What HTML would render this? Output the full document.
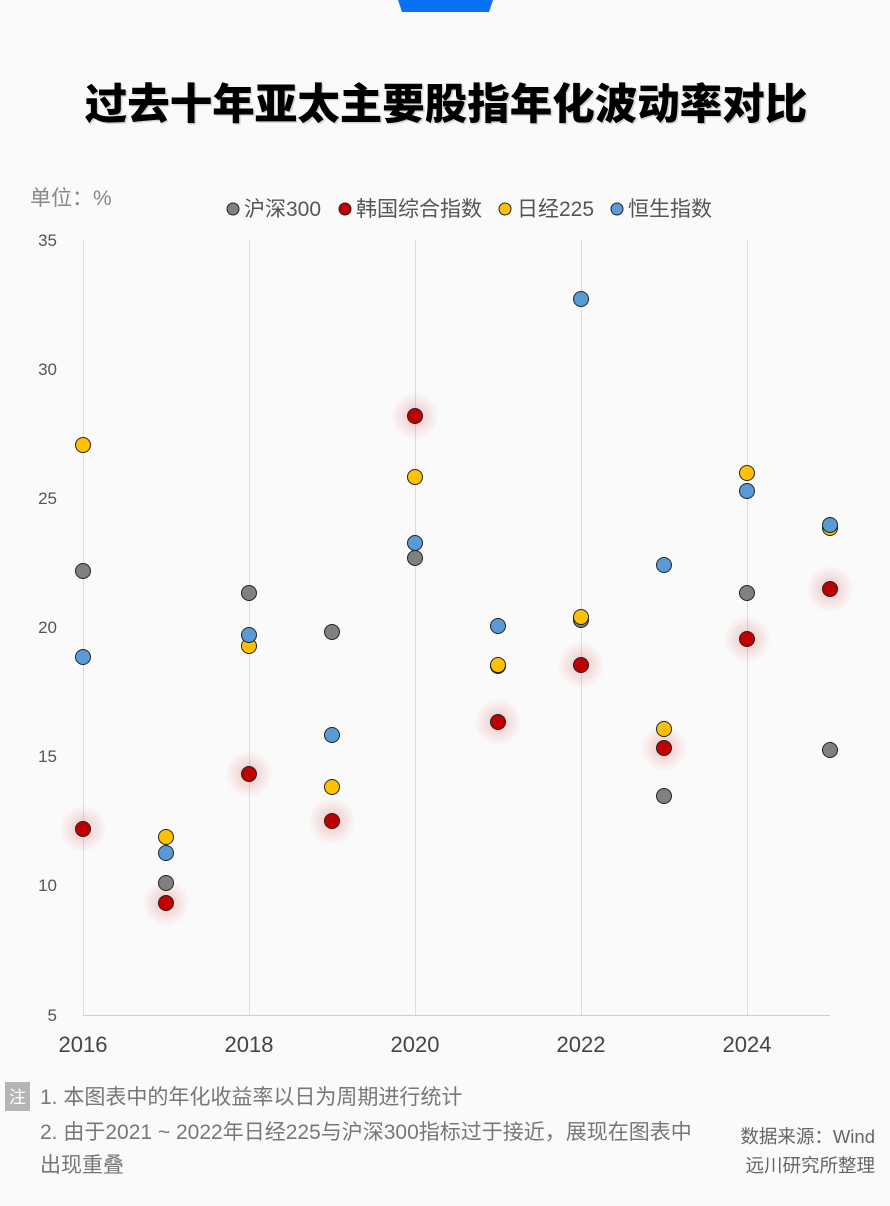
<!DOCTYPE html>
<html><head><meta charset="utf-8"><style>
html,body{margin:0;padding:0;background:#fafafa;}
svg{display:block;}
text{font-family:"Liberation Sans","Noto Sans CJK SC",sans-serif;}
</style></head><body>
<svg width="890" height="1206" viewBox="0 0 890 1206" xmlns="http://www.w3.org/2000/svg">
<defs>
<radialGradient id="glow">
<stop offset="0" stop-color="#d04040" stop-opacity="0.35"/>
<stop offset="0.45" stop-color="#d85050" stop-opacity="0.18"/>
<stop offset="1" stop-color="#e06060" stop-opacity="0"/>
</radialGradient>
</defs>
<rect width="890" height="1206" fill="#fafafa"/>
<polygon points="398,0 493,0 489,12 402,12" fill="#0a72f2"/>
<text x="447.5" y="120.5" text-anchor="middle" font-size="42.5" font-weight="900" fill="#d4d4d4" style="font-family:'Noto Sans CJK SC',sans-serif">过去十年亚太主要股指年化波动率对比</text>
<text x="446" y="119" text-anchor="middle" font-size="42.5" font-weight="900" fill="#000" style="font-family:'Noto Sans CJK SC',sans-serif">过去十年亚太主要股指年化波动率对比</text>

<text x="30" y="205" font-size="21" fill="#888">单位：%</text>

<g font-size="21" fill="#555">
<circle cx="233" cy="209" r="6" fill="#808080" stroke="#222" stroke-width="1"/>
<text x="244" y="216">沪深300</text>
<circle cx="345" cy="209" r="6" fill="#c00000" stroke="#222" stroke-width="1"/>
<text x="356" y="216">韩国综合指数</text>
<circle cx="505" cy="209" r="6" fill="#ffc000" stroke="#222" stroke-width="1"/>
<text x="517" y="216">日经225</text>
<circle cx="617" cy="209" r="6" fill="#5b9bd5" stroke="#222" stroke-width="1"/>
<text x="628" y="216">恒生指数</text>
</g>

<g stroke="#dcdcdc" stroke-width="1">
<line x1="83.5" y1="240" x2="83.5" y2="1015"/>
<line x1="249.5" y1="240" x2="249.5" y2="1015"/>
<line x1="415.5" y1="240" x2="415.5" y2="1015"/>
<line x1="581.5" y1="240" x2="581.5" y2="1015"/>
<line x1="747.5" y1="240" x2="747.5" y2="1015"/>
</g>
<line x1="83" y1="1015.5" x2="830" y2="1015.5" stroke="#cfcfcf" stroke-width="1"/>

<g font-size="17" fill="#555" text-anchor="end">
<text x="57" y="246">35</text>
<text x="57" y="375">30</text>
<text x="57" y="504">25</text>
<text x="57" y="633">20</text>
<text x="57" y="762">15</text>
<text x="57" y="891">10</text>
<text x="57" y="1021">5</text>
</g>
<g font-size="22" fill="#444" text-anchor="middle">
<text x="83" y="1052">2016</text>
<text x="249" y="1052">2018</text>
<text x="415" y="1052">2020</text>
<text x="581" y="1052">2022</text>
<text x="747" y="1052">2024</text>
</g>

<g fill="url(#glow)">
<circle cx="83" cy="829" r="24"/>
<circle cx="166" cy="903" r="24"/>
<circle cx="249" cy="774" r="24"/>
<circle cx="332" cy="821" r="24"/>
<circle cx="415" cy="416" r="24"/>
<circle cx="498" cy="722" r="24"/>
<circle cx="581" cy="665" r="24"/>
<circle cx="664" cy="748" r="24"/>
<circle cx="747" cy="639" r="24"/>
<circle cx="830" cy="589" r="24"/>
</g>

<g stroke="#222" stroke-width="1">
<g fill="#5b9bd5">
<circle cx="415" cy="543" r="7.5"/>
</g>
<g fill="#808080">
<circle cx="83" cy="571" r="7.5"/>
<circle cx="166" cy="883" r="7.5"/>
<circle cx="249" cy="593" r="7.5"/>
<circle cx="332" cy="632" r="7.5"/>
<circle cx="415" cy="558" r="7.5"/>
<circle cx="498" cy="666" r="7.5"/>
<circle cx="581" cy="620" r="7.5"/>
<circle cx="664" cy="796" r="7.5"/>
<circle cx="747" cy="593" r="7.5"/>
<circle cx="830" cy="750" r="7.5"/>
</g>
<g fill="#c00000">
<circle cx="83" cy="829" r="7.5"/>
<circle cx="166" cy="903" r="7.5"/>
<circle cx="249" cy="774" r="7.5"/>
<circle cx="332" cy="821" r="7.5"/>
<circle cx="415" cy="416" r="7.5"/>
<circle cx="498" cy="722" r="7.5"/>
<circle cx="581" cy="665" r="7.5"/>
<circle cx="664" cy="748" r="7.5"/>
<circle cx="747" cy="639" r="7.5"/>
<circle cx="830" cy="589" r="7.5"/>
</g>
<g fill="#ffc000">
<circle cx="83" cy="445" r="7.5"/>
<circle cx="166" cy="837" r="7.5"/>
<circle cx="249" cy="646" r="7.5"/>
<circle cx="332" cy="787" r="7.5"/>
<circle cx="415" cy="477" r="7.5"/>
<circle cx="498" cy="665" r="7.5"/>
<circle cx="581" cy="617" r="7.5"/>
<circle cx="664" cy="729" r="7.5"/>
<circle cx="747" cy="473" r="7.5"/>
<circle cx="830" cy="528" r="7.5"/>
</g>
<g fill="#5b9bd5">
<circle cx="83" cy="657" r="7.5"/>
<circle cx="166" cy="853" r="7.5"/>
<circle cx="249" cy="635" r="7.5"/>
<circle cx="332" cy="735" r="7.5"/>
<circle cx="498" cy="626" r="7.5"/>
<circle cx="581" cy="299" r="7.5"/>
<circle cx="664" cy="565" r="7.5"/>
<circle cx="747" cy="491" r="7.5"/>
<circle cx="830" cy="525" r="7.5"/>
</g>
</g>

<rect x="5" y="1082" width="25" height="29" fill="#b5b5b5"/>
<text x="17.5" y="1103" text-anchor="middle" font-size="17" fill="#fff">注</text>
<g font-size="21" fill="#777">
<text x="40" y="1104">1. 本图表中的年化收益率以日为周期进行统计</text>
<text x="40" y="1139">2. 由于2021 ~ 2022年日经225与沪深300指标过于接近，展现在图表中</text>
<text x="40" y="1172">出现重叠</text>
</g>
<g font-size="18.5" fill="#666" text-anchor="end">
<text x="875" y="1143">数据来源：Wind</text>
<text x="875" y="1172">远川研究所整理</text>
</g>
</svg>
</body></html>
